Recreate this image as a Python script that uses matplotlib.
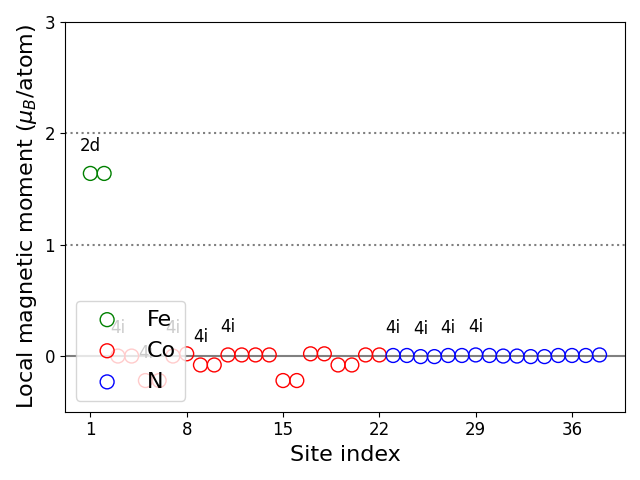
import matplotlib
matplotlib.use("Agg")
import matplotlib.pyplot as plt
import numpy as np

fe_sites = [1, 2]
fe_moments = [1.64, 1.64]

co_sites = list(range(3, 23))
co_moments = [0.00, 0.00, -0.22, -0.22, 0.00, 0.02, -0.08, -0.08, 0.01, 0.01,
              0.01, 0.01, -0.22, -0.22, 0.02, 0.02, -0.08, -0.08, 0.01, 0.01]

n_sites = list(range(23, 39))
n_moments = [0.005, 0.005, -0.005, -0.005, 0.005, 0.005, 0.01, 0.005,
             0.0, 0.0, -0.005, -0.005, 0.005, 0.005, 0.005, 0.01]

label_sites = [1, 3, 5, 7, 9, 11, 23, 25, 27, 29]
label_texts = ["2d", "4i", "4i", "4i", "4i", "4i", "4i", "4i", "4i", "4i"]

xticks = [1, 8, 15, 22, 29, 36]

fig, ax = plt.subplots(figsize=(6.4, 4.8), dpi=100)
ax.axhline(0, color="gray", lw=1.5, zorder=0)
ax.axhline(1, color="gray", lw=1.5, ls=":", zorder=0)
ax.axhline(2, color="gray", lw=1.5, ls=":", zorder=0)

ax.scatter(fe_sites, fe_moments, s=100, facecolors="none", edgecolors="green", label="Fe")
ax.scatter(co_sites, co_moments, s=100, facecolors="none", edgecolors="red", label="Co")
ax.scatter(n_sites, n_moments, s=100, facecolors="none", edgecolors="blue", label="N")

all_sites = fe_sites + co_sites + n_sites
all_moments = fe_moments + co_moments + n_moments
lookup = dict(zip(all_sites, all_moments))
for s, t in zip(label_sites, label_texts):
    ax.text(s, lookup[s] + 0.25, t, ha="center", va="center", fontsize=12)

ax.set_ylim(-0.5, 3)
ax.set_yticks([0, 1, 2, 3])
ax.set_xticks(xticks)
ax.tick_params(labelsize=12)
ax.set_xlabel("Site index", fontsize=16)
ax.set_ylabel(r"Local magnetic moment ($\mu_B$/atom)", fontsize=16)
ax.legend(loc="lower left", fontsize=16)
fig.tight_layout()
fig.savefig("out.png", dpi=100)
